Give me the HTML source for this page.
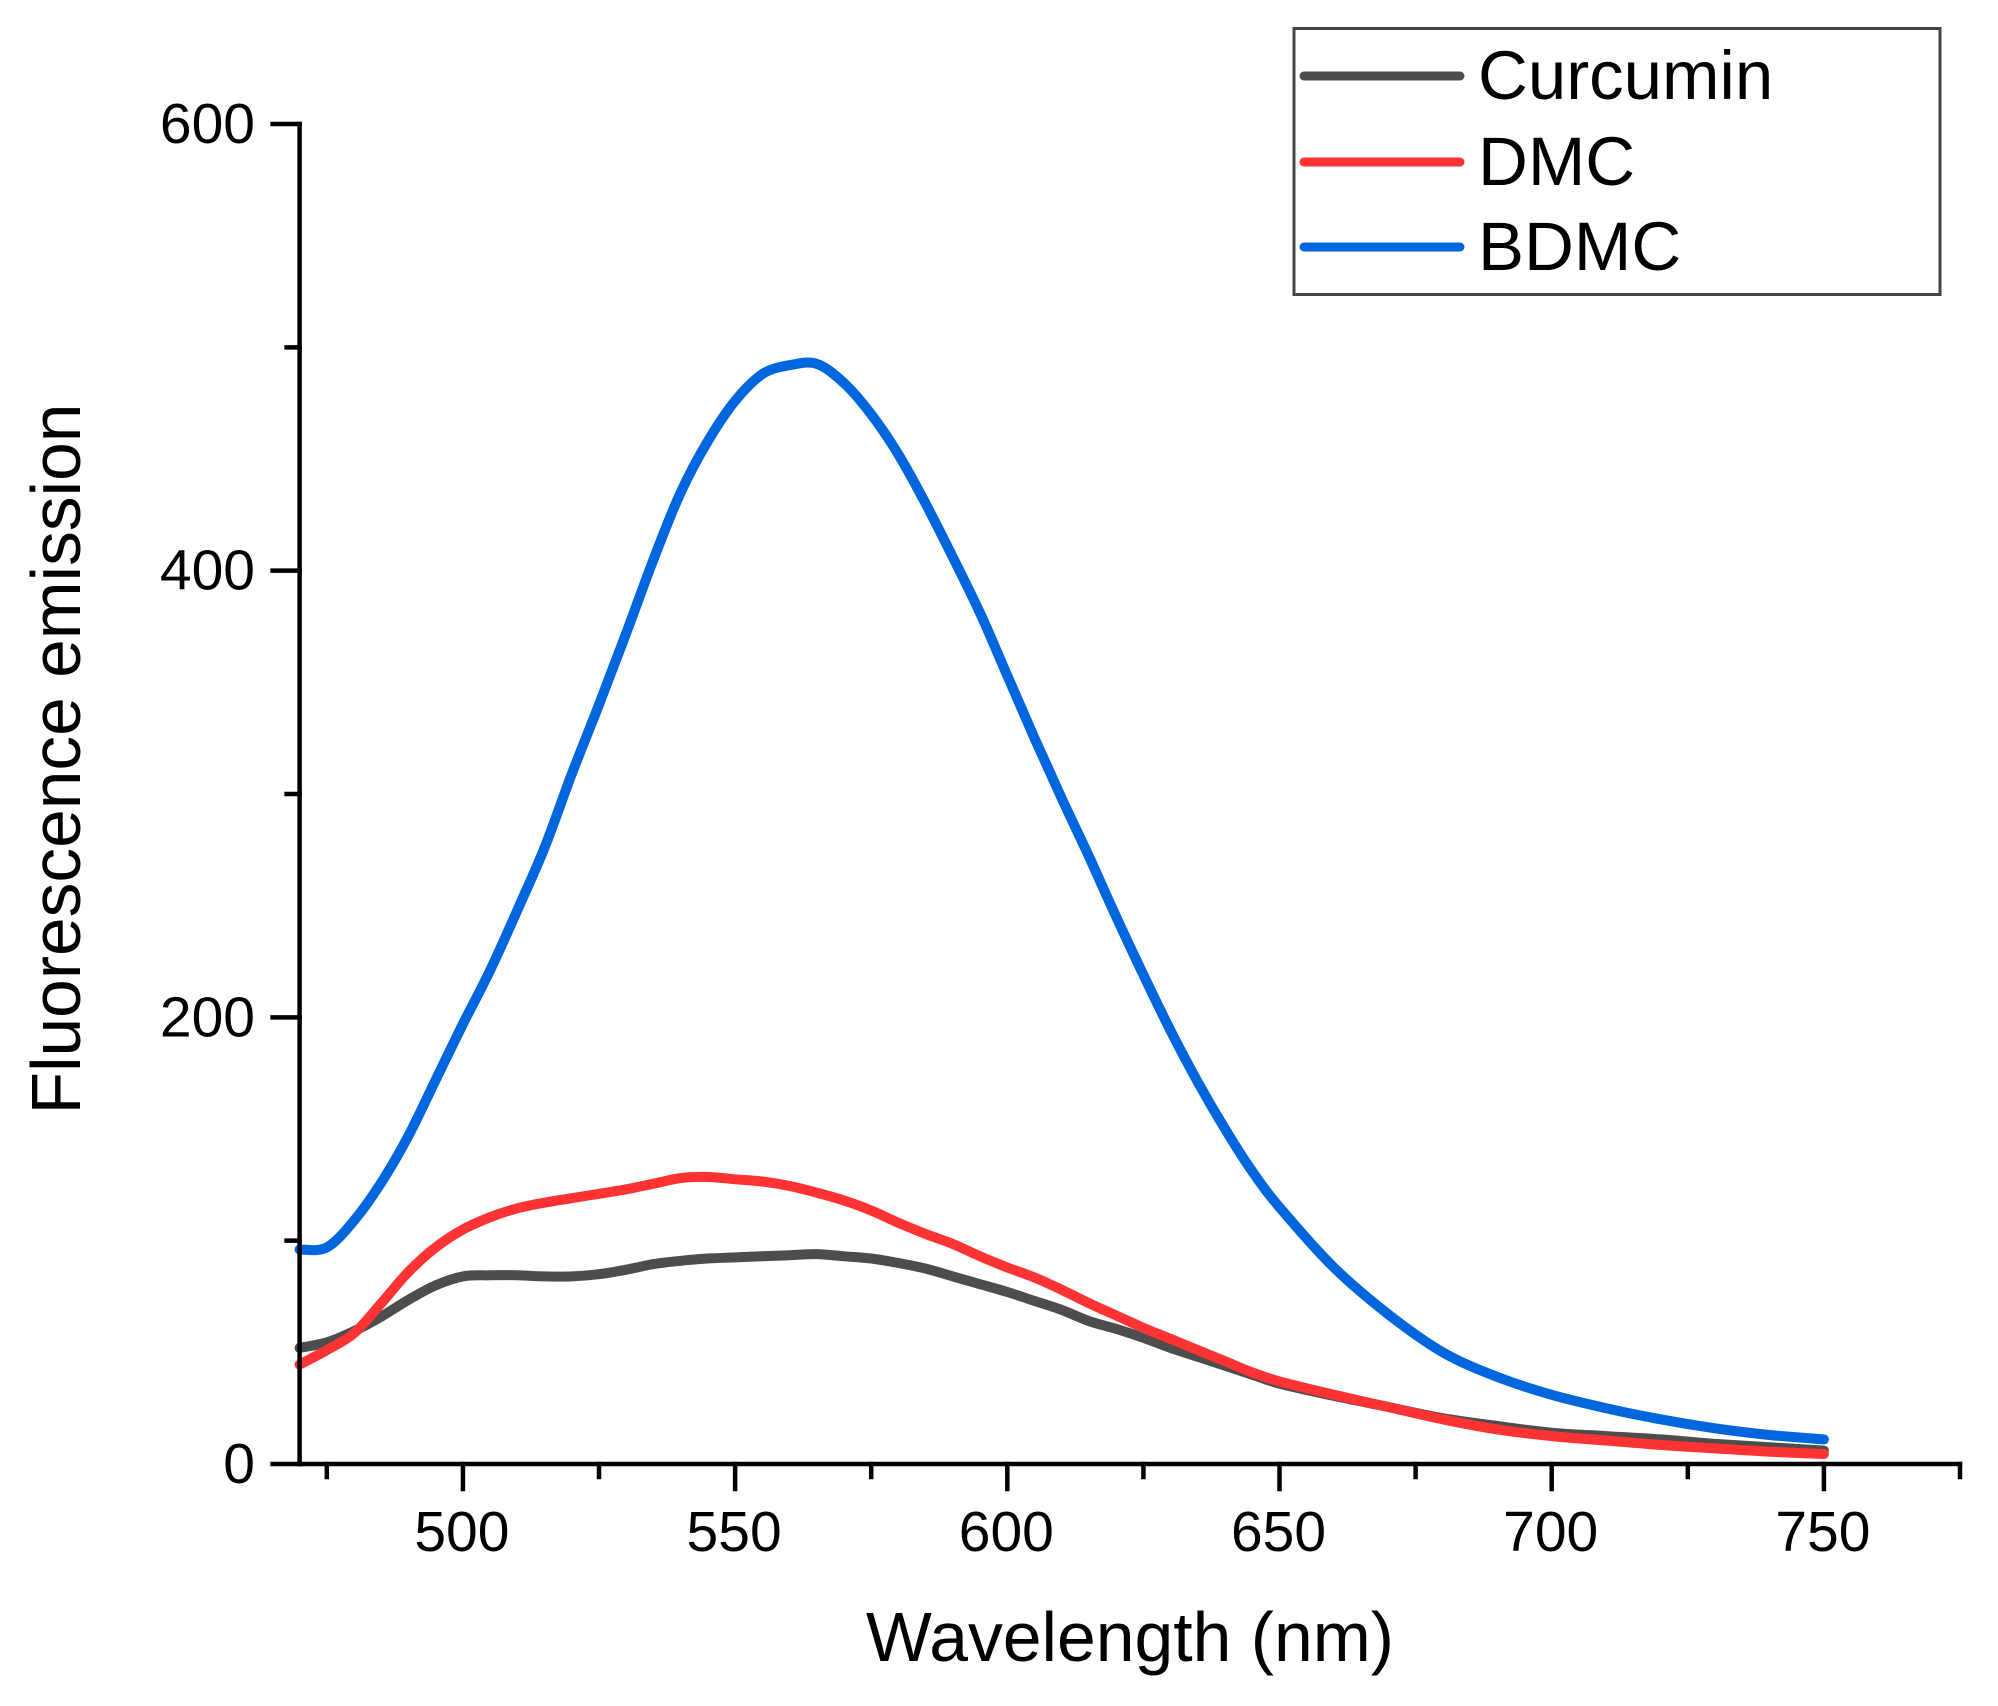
<!DOCTYPE html>
<html lang="en">
<head>
<meta charset="utf-8">
<title>Fluorescence emission spectra</title>
<style>
html,body{margin:0;padding:0;background:#fff;}
svg{display:block;}
text{font-family:"Liberation Sans",sans-serif;fill:#000;}
</style>
</head>
<body>
<svg id="chart" xmlns="http://www.w3.org/2000/svg" width="1998" height="1706" viewBox="0 0 1998 1706">
  <rect x="0" y="0" width="1998" height="1706" fill="#fff"/>
  <g id="series"></g>
  <g id="axes"></g>
  <text x="1130" y="1661" font-size="69.7" text-anchor="middle">Wavelength (nm)</text>
  <text transform="translate(80,759) rotate(-90)" font-size="69.5" text-anchor="middle">Fluorescence emission</text>
  <g>
    <rect x="1294" y="28.5" width="646" height="266" fill="#fff" stroke="#444" stroke-width="3"/>
    <g>
      <line x1="1304" y1="76" x2="1460" y2="76" stroke="#4d4d4d" stroke-width="9" stroke-linecap="round"/>
      <text x="1478" y="99" font-size="69">Curcumin</text>
    </g>
    <g>
      <line x1="1304" y1="162" x2="1460" y2="162" stroke="#ff3333" stroke-width="9" stroke-linecap="round"/>
      <text x="1478" y="185" font-size="69">DMC</text>
    </g>
    <g>
      <line x1="1304" y1="247" x2="1460" y2="247" stroke="#0066dd" stroke-width="9" stroke-linecap="round"/>
      <text x="1478" y="270" font-size="69">BDMC</text>
    </g>
  </g>
</svg>
<script>
const wavelengths = [470,475,480,485,490,495,500,505,510,515,520,525,530,535,540,545,550,555,560,565,570,575,580,585,590,595,600,605,610,615,620,625,630,635,640,645,650,660,670,680,690,700,710,720,730,740,750];
const curcuminValues = [52,54.5,59.5,66,73.5,80,84,84.5,84.5,84,84,85,87,89.5,91,92,92.5,93,93.5,94,93,92,90,87.5,84,80.5,77,73,69,64,60.5,56.5,52,48,44,40,36,30.5,25.5,20.5,17,14,12.5,11,9,7.5,6];
const dmcValues = [44.5,51,58.5,72,86,97,105,110.5,114.5,117,119,121,123,125.5,128,128.5,127.5,126.5,124.5,121.5,118,113.5,108,103,98.5,93,88,83.5,78,72,66.5,61,56,51,46,41,37,31,25.5,20,15.5,12.5,10.5,8.5,7,5.5,4.5];
const bdmcValues = [96,97,109,126,147,172,197,221,248,276,309,340,372,405,435,458,476,488,492,492.6,484,470,452,430,406,381,353,325,298,272,245,219,194,171,150,131,115,88,67,50,39,31,25,20,16,13,11];
const xMajorTicks = [500,550,600,650,700,750];
const xMinorTicks = [475,525,575,625,675,725,775];
const yMajorTicks = [0,200,400,600];
const yMinorTicks = [100,300,500];

const X_MIN = 470, X_MAX = 775, Y_MIN = 0, Y_MAX = 600;
const LEFT = 299.6, RIGHT = 1960, TOP = 124, BOTTOM = 1464;
const NS = 'http://www.w3.org/2000/svg';

function xScale(v){ return LEFT + (v - X_MIN) * (RIGHT - LEFT) / (X_MAX - X_MIN); }
function yScale(v){ return BOTTOM - (v - Y_MIN) * (BOTTOM - TOP) / (Y_MAX - Y_MIN); }

function smoothPath(xs, ys){
  const p = xs.map(function(x, i){ return [xScale(x), yScale(ys[i])]; });
  let d = 'M' + p[0][0].toFixed(1) + ' ' + p[0][1].toFixed(1);
  for (let i = 0; i < p.length - 1; i++) {
    const a = p[Math.max(i - 1, 0)], b = p[i], c = p[i + 1], e = p[Math.min(i + 2, p.length - 1)];
    const c1x = b[0] + (c[0] - a[0]) / 6, c1y = b[1] + (c[1] - a[1]) / 6;
    const c2x = c[0] - (e[0] - b[0]) / 6, c2y = c[1] - (e[1] - b[1]) / 6;
    d += 'C' + c1x.toFixed(1) + ' ' + c1y.toFixed(1) + ' ' + c2x.toFixed(1) + ' ' + c2y.toFixed(1) + ' ' + c[0].toFixed(1) + ' ' + c[1].toFixed(1);
  }
  return d;
}

function addSeries(name, values, color){
  const el = document.createElementNS(NS, 'path');
  
  
  el.setAttribute('d', smoothPath(wavelengths, values));
  el.setAttribute('fill', 'none');
  el.setAttribute('stroke', color);
  el.setAttribute('stroke-width', '10');
  el.setAttribute('stroke-linejoin', 'round');
  el.setAttribute('stroke-linecap', 'round');
  document.getElementById('series').appendChild(el);
}
addSeries('curcumin-line', curcuminValues, '#4d4d4d');
addSeries('dmc-line', dmcValues, '#ff3333');
addSeries('bdmc-line', bdmcValues, '#0066dd');

const axes = document.getElementById('axes');
function addLine(name, x1, y1, x2, y2, w){
  const el = document.createElementNS(NS, 'line');
  
  
  el.setAttribute('x1', x1);
  el.setAttribute('y1', y1);
  el.setAttribute('x2', x2);
  el.setAttribute('y2', y2);
  el.setAttribute('stroke', '#000');
  el.setAttribute('stroke-width', w);
  el.setAttribute('stroke-linecap', 'square');
  axes.appendChild(el);
}
function addLabel(name, x, y, anchor, str){
  const el = document.createElementNS(NS, 'text');
  
  
  el.setAttribute('x', x);
  el.setAttribute('y', y);
  el.setAttribute('font-size', '57');
  el.setAttribute('text-anchor', anchor);
  el.textContent = str;
  axes.appendChild(el);
}
addLine('y-axis-line', LEFT, TOP, LEFT, BOTTOM, 4.5);
addLine('x-axis-line', LEFT, BOTTOM, RIGHT, BOTTOM, 4.5);
xMajorTicks.forEach(function(v){
  addLine('x-major-tick', xScale(v), BOTTOM, xScale(v), BOTTOM + 25, 4.5);
  addLabel('x-tick-label', xScale(v) - 1, 1551, 'middle', String(v));
});
xMinorTicks.forEach(function(v){
  addLine('x-minor-tick', xScale(v), BOTTOM, xScale(v), BOTTOM + 13, 4.5);
});
yMajorTicks.forEach(function(v){
  addLine('y-major-tick', LEFT - 27, yScale(v), LEFT, yScale(v), 4.5);
  addLabel('y-tick-label', 255, yScale(v) + 19, 'end', String(v));
});
yMinorTicks.forEach(function(v){
  addLine('y-minor-tick', LEFT - 13, yScale(v), LEFT, yScale(v), 4.5);
});
</script>
</body>
</html>
